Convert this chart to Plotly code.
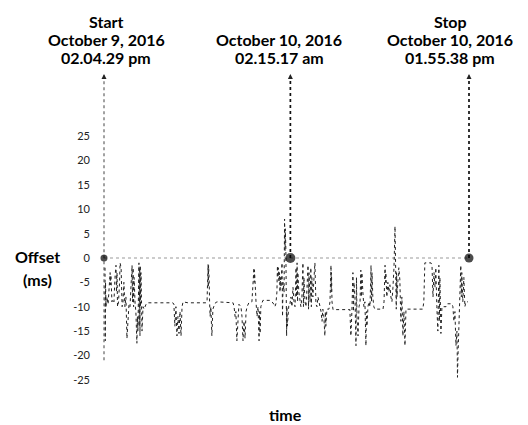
import plotly.graph_objects as go

# --- data: minutes since start (Oct 9, 2016 02.04.29 pm) and offset in ms ---
minutes = [4, 5, 6, 8, 12, 16, 20, 24, 25, 27, 29, 31, 35, 39, 43, 47, 49, 51, 53, 57,
           61, 63, 67, 69, 71, 74, 78, 82, 86, 90, 94, 98, 102, 106, 110, 112, 114, 116, 118, 122,
           125, 129, 131, 133, 137, 138, 140, 141, 142, 143, 145, 147, 149, 153, 157, 165, 169, 220, 270, 274,
           278, 282, 286, 290, 294, 298, 302, 306, 310, 329, 376, 400, 404, 408, 409, 410, 412, 414, 416, 419,
           423, 425, 427, 435, 443, 506, 510, 514, 517, 521, 525, 529, 537, 541, 545, 549, 553, 557, 561, 568,
           580, 588, 589, 590, 592, 596, 600, 604, 608, 610, 612, 615, 623, 651, 659, 666, 670, 674, 678, 680,
           682, 684, 686, 688, 690, 692, 694, 698, 700, 702, 706, 708, 710, 711, 713, 715, 716, 717, 719, 721,
           725, 729, 733, 737, 741, 745, 749, 753, 755, 757, 759, 760, 764, 768, 772, 776, 780, 782, 784, 788,
           792, 796, 800, 802, 804, 808, 811, 813, 815, 819, 823, 827, 831, 835, 839, 843, 847, 851, 855, 858,
           862, 866, 868, 870, 874, 882, 886, 890, 891, 892, 894, 898, 964, 968, 972, 976, 978, 980, 984, 988,
           990, 992, 996, 1000, 1004, 1007, 1009, 1011, 1015, 1019, 1023, 1027, 1029, 1031, 1035, 1039, 1043, 1047, 1049, 1051,
           1054, 1058, 1062, 1094, 1098, 1102, 1104, 1105, 1109, 1113, 1117, 1121, 1125, 1129, 1133, 1137, 1141, 1142, 1143, 1145,
           1146, 1147, 1149, 1152, 1156, 1160, 1162, 1164, 1168, 1172, 1176, 1180, 1184, 1250, 1254, 1258, 1282, 1286, 1290, 1294,
           1298, 1301, 1305, 1309, 1313, 1315, 1317, 1321, 1325, 1333, 1341, 1345, 1364, 1368, 1372, 1376, 1380, 1384, 1386, 1388,
           1392, 1396, 1399, 1401, 1403, 1407, 1411, 1415, 1419, 1427]
offset_ms = [-2, -17, -5, -10, -8, -9.5, -6, -3, -5.5, -3.5, -6, -9, -8.5, -9, -4, -1.5, -7, -3, -10, -9,
             -5, -1, -2, -8, -10, -9.5, -5, -10, -8, -16.5, -11, -9.5, -10, -5, -1.5, -9, -2, -10, -4, -9.5,
             -11, -17.5, -12, -15, -1, -14, -2, -16, -1.5, -10, -3, -12, -15, -10, -10.5, -9.5, -9.2, -9.2, -9.2, -9.5,
             -14, -10, -16, -12, -15.5, -11, -16, -10, -9, -9.2, -9.2, -9.2, -9, -1.3, -6, -1.5, -4, -9, -12, -10,
             -16, -13, -10.5, -9.3, -9, -9.2, -10, -12, -11, -17, -11.5, -9.5, -10, -12, -17, -13, -16.5, -11, -10, -9.2,
             -9, -2, -5, -2.5, -4.5, -9, -12, -10, -17, -11, -15.5, -10, -8.7, -8.7, -9, -9.5, -10, -9.4, -7, -1.6,
             -4, -2, -5, -3, -7, -4, -6, -1, -12, -5, -7, 8, 1.5, 6, 2, -9.5, -16, -10, -14, -12,
             -9.5, -9.5, -8, -10, -6, -9, -10, -2, -8, -1, -9, -3, -7, -9, -10, -8, -1, -10, -4, -9,
             -10, -6, -1.5, -10.5, -3, -9, -2, -10, -4, -8, -3, -1, -9.5, -10, -8, -9, -10.5, -11, -13, -10.5,
             -12, -16, -11, -14, -10.5, -10.5, -9, -1.5, -7, -3, -9, -10.6, -10.6, -16, -11, -3, -11, -5, -8, -18,
             -4, -12, -16, -10, -9, -2.5, -8, -3, -7, -10, -9, -18, -11, -14, -10, -9, -10, -1.5, -9, -3,
             -8, -10, -10.5, -10.5, -9, -1.5, -5, -3, -8, -5, -7, -5.5, -8, -9, -6, -2, 6.5, 1, 4, -1,
             -10.5, -3, -8, -5, -2, -4.5, -10, -13, -8, -16, -11, -18, -10.5, -10.5, -9, -1, -1, -1.5, -8, -3,
             -6, -2, -10, -15, -1.5, -13, -4, -15.5, -10, -10, -10, -9.4, -9.4, -10, -13, -11, -18, -15, -24.5, -20,
             -13, -10, -1.5, -8, -3, -9, -4, -10, -9, -9]

event_minutes = [0, 730.8, 1431.15]
event_offsets = [0, 0, 0]
event_titles = ["Start", "", "Stop"]
event_dates = ["October 9, 2016", "October 10, 2016", "October 10, 2016"]
event_clock = ["02.04.29 pm", "02.15.17 am", "01.55.38 pm"]
ytick_vals = [25, 20, 15, 10, 5, 0, -5, -10, -15, -20, -25]
ytick_text = ["25", "20", "15", "10", "5", "0", "-5", "-10", "-15", "-20", "-25"]

# layout positions (reference-screenshot pixels)
label_cx = [106, 279, 450]          # centres of the label blocks
label_rows = [21, 39.5, 57.5]       # centres of the three text rows

# page body has an 8px margin: the figure starts at (8, 8) in the screenshot
OFF = 8
W, H = 520, 417
x_left_px, x_right_px = 104 - OFF, 469 - OFF
mpp = (event_minutes[2] - event_minutes[0]) / (x_right_px - x_left_px)  # minutes per pixel
x_range = [-x_left_px * mpp, (W - x_left_px) * mpp]
y0_px, ppu = 258.0 - OFF, 4.87
y_range = [-(H - y0_px) / ppu, y0_px / ppu]


def py(p):
    return 1 - (p - OFF) / H


def px(p):
    return (p - OFF) / W


FONT = "Lato"
TFONT = dict(family=FONT, size=16, color="black")

fig = go.Figure()

# dotted zero line
fig.add_shape(type="line", x0=event_minutes[0], x1=event_minutes[2], y0=0, y1=0, layer="below",
              line=dict(color="#999999", width=1, dash="dot"))
# vertical dotted markers
arrow_top = (258 - 74) / ppu
for i, t in enumerate(event_minutes):
    ybot = 0 if i else -21
    col = "#111111" if i else "#555555"
    wid = 1.7 if i else 1.1
    fig.add_shape(type="line", x0=t, x1=t, y0=ybot, y1=arrow_top - 1, layer="below",
                  line=dict(color=col, width=wid, dash="dot"))
    fig.add_annotation(x=t, y=arrow_top, ax=0, ay=6, text="", showarrow=True,
                       arrowhead=2, arrowsize=1, arrowwidth=1, arrowcolor="#222222",
                       xref="x", yref="y")

fig.add_trace(go.Scatter(x=minutes, y=offset_ms, mode="lines",
                         line=dict(color="#222222", width=1, dash="dot"),
                         hoverinfo="skip"))
fig.add_trace(go.Scatter(x=event_minutes, y=event_offsets, mode="markers",
                         marker=dict(color="black", size=[7, 10, 9], line=dict(width=0)),
                         hoverinfo="skip"))

for cx, title, date, clock in zip(label_cx, event_titles, event_dates, event_clock):
    for txt, ry in zip([title, date, clock], label_rows):
        if txt:
            fig.add_annotation(x=px(cx), y=py(ry), xref="paper", yref="paper",
                               text="<b>%s</b>" % txt, showarrow=False, font=TFONT,
                               xanchor="center", yanchor="middle")

for txt, ry in zip(["Offset", "(ms)"], [256, 279]):
    fig.add_annotation(x=px(37), y=py(ry), xref="paper", yref="paper",
                       text="<b>%s</b>" % txt, showarrow=False, font=TFONT,
                       xanchor="center", yanchor="middle")
fig.add_annotation(x=px(285), y=py(414), xref="paper", yref="paper",
                   text="<b>time</b>", showarrow=False, xanchor="center", yanchor="middle",
                   font=TFONT)

fig.update_layout(
    width=W, height=H, margin=dict(l=0, r=0, t=0, b=0),
    paper_bgcolor="white", plot_bgcolor="white", showlegend=False,
    xaxis=dict(range=x_range, visible=False, domain=[0, 1]),
    yaxis=dict(range=y_range, domain=[0, 1], anchor="free", position=x_left_px / W,
               tickmode="array", tickvals=ytick_vals, ticktext=ytick_text,
               showgrid=False, zeroline=False, showline=False, ticks="",
               ticklabelstandoff=14,
               tickfont=dict(family=FONT, size=11, color="#222222")),
)

fig.write_html("out.html")
